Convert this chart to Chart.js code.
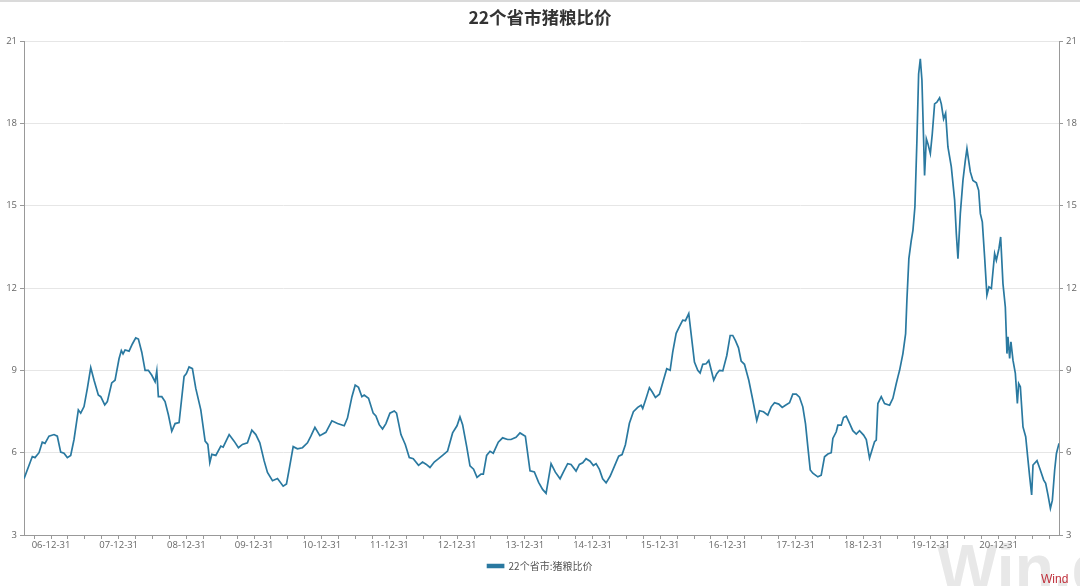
<!DOCTYPE html>
<html>
<head>
<meta charset="utf-8">
<title>22个省市猪粮比价</title>
<script src="https://cdn.jsdelivr.net/npm/chart.js@4.4.0/dist/chart.umd.min.js"></script>
<style>
	html, body { margin: 0; padding: 0; background: #fff; }
	#wrap { width: 1080px; height: 586px; }
</style>
</head>
<body>
<div id="wrap"><canvas id="ratio-chart" width="1080" height="586"></canvas></div>
<script>
var chartTitle = '22个省市猪粮比价';
var seriesName = '22个省市:猪粮比价';
var yearEndLabels = ['06-12-31', '07-12-31', '08-12-31', '09-12-31', '10-12-31', '11-12-31', '12-12-31',
	'13-12-31', '14-12-31', '15-12-31', '16-12-31', '17-12-31', '18-12-31', '19-12-31', '20-12-31'];
var yTicks = [3, 6, 9, 12, 15, 18, 21];

// dates as decimal years
var dates = [
	2006.601, 2006.724, 2006.763, 2006.823, 2006.871, 2006.911, 2006.970, 2007.044, 2007.093, 2007.143,
	2007.192, 2007.241, 2007.291, 2007.340, 2007.404, 2007.439, 2007.488, 2007.537, 2007.587, 2007.636,
	2007.699, 2007.735, 2007.794, 2007.832, 2007.897, 2007.946, 2008.005, 2008.039, 2008.064, 2008.094,
	2008.153, 2008.202, 2008.252, 2008.291, 2008.341, 2008.390, 2008.438, 2008.489, 2008.538, 2008.563,
	2008.586, 2008.637, 2008.685, 2008.734, 2008.784, 2008.833, 2008.892, 2008.966, 2009.000, 2009.040,
	2009.089, 2009.139, 2009.213, 2009.277, 2009.317, 2009.346, 2009.376, 2009.435, 2009.509, 2009.543,
	2009.632, 2009.705, 2009.769, 2009.828, 2009.902, 2009.967, 2010.026, 2010.085, 2010.149, 2010.198,
	2010.272, 2010.346, 2010.430, 2010.479, 2010.519, 2010.578, 2010.641, 2010.715, 2010.789, 2010.839,
	2010.899, 2010.972, 2011.061, 2011.150, 2011.233, 2011.332, 2011.380, 2011.446, 2011.494, 2011.543,
	2011.593, 2011.627, 2011.691, 2011.760, 2011.800, 2011.849, 2011.898, 2011.948, 2012.007, 2012.071,
	2012.105, 2012.170, 2012.234, 2012.293, 2012.352, 2012.430, 2012.489, 2012.540, 2012.599, 2012.662,
	2012.726, 2012.785, 2012.859, 2012.933, 2012.998, 2013.042, 2013.081, 2013.140, 2013.190, 2013.243,
	2013.294, 2013.353, 2013.387, 2013.436, 2013.486, 2013.534, 2013.608, 2013.672, 2013.746, 2013.796,
	2013.870, 2013.929, 2014.008, 2014.077, 2014.141, 2014.204, 2014.263, 2014.314, 2014.388, 2014.451,
	2014.521, 2014.569, 2014.633, 2014.683, 2014.757, 2014.806, 2014.855, 2014.905, 2014.964, 2015.013,
	2015.053, 2015.102, 2015.150, 2015.201, 2015.260, 2015.323, 2015.387, 2015.437, 2015.486, 2015.545,
	2015.604, 2015.668, 2015.718, 2015.742, 2015.792, 2015.841, 2015.881, 2015.930, 2015.989, 2016.048,
	2016.097, 2016.147, 2016.185, 2016.236, 2016.284, 2016.333, 2016.373, 2016.422, 2016.457, 2016.506,
	2016.555, 2016.590, 2016.629, 2016.679, 2016.718, 2016.753, 2016.791, 2016.836, 2016.876, 2016.925,
	2016.984, 2017.034, 2017.072, 2017.112, 2017.157, 2017.196, 2017.245, 2017.309, 2017.368, 2017.427,
	2017.467, 2017.526, 2017.590, 2017.640, 2017.689, 2017.752, 2017.803, 2017.851, 2017.911, 2017.959,
	2018.010, 2018.058, 2018.107, 2018.147, 2018.181, 2018.217, 2018.255, 2018.329, 2018.379, 2018.428,
	2018.477, 2018.527, 2018.551, 2018.601, 2018.625, 2018.675, 2018.709, 2018.749, 2018.798, 2018.846,
	2018.897, 2018.945, 2019.005, 2019.045, 2019.093, 2019.133, 2019.167, 2019.192, 2019.216, 2019.266,
	2019.315, 2019.389, 2019.438, 2019.488, 2019.512, 2019.537, 2019.586, 2019.626, 2019.645, 2019.674,
	2019.710, 2019.734, 2019.763, 2019.793, 2019.818, 2019.843, 2019.867, 2019.892, 2019.906, 2019.932,
	2019.955, 2019.991, 2020.020, 2020.054, 2020.088, 2020.128, 2020.153, 2020.187, 2020.217, 2020.251,
	2020.301, 2020.350, 2020.375, 2020.399, 2020.434, 2020.473, 2020.508, 2020.532, 2020.557, 2020.582,
	2020.620, 2020.671, 2020.705, 2020.730, 2020.759, 2020.793, 2020.827, 2020.857, 2020.893, 2020.941,
	2020.966, 2021.005, 2021.030, 2021.064, 2021.099, 2021.123, 2021.138, 2021.163, 2021.182, 2021.212,
	2021.247, 2021.277, 2021.296, 2021.321, 2021.360, 2021.400, 2021.434, 2021.459, 2021.488, 2021.508,
	2021.567, 2021.607, 2021.666, 2021.695, 2021.729, 2021.765, 2021.794, 2021.828, 2021.854, 2021.892
];

var ratio = [
	5.05, 5.86, 5.82, 6.00, 6.38, 6.34, 6.60, 6.66, 6.60, 6.02,
	5.98, 5.82, 5.90, 6.48, 7.56, 7.44, 7.68, 8.34, 9.10, 8.64,
	8.10, 8.04, 7.74, 7.86, 8.54, 8.64, 9.42, 9.72, 9.60, 9.74,
	9.70, 9.96, 10.18, 10.14, 9.66, 9.00, 9.00, 8.82, 8.58, 8.98,
	8.04, 8.04, 7.86, 7.38, 6.78, 7.06, 7.10, 8.78, 8.88, 9.12,
	9.06, 8.34, 7.56, 6.42, 6.30, 5.64, 5.94, 5.90, 6.24, 6.20,
	6.66, 6.42, 6.18, 6.30, 6.36, 6.82, 6.66, 6.36, 5.70, 5.28,
	4.98, 5.06, 4.78, 4.86, 5.40, 6.22, 6.14, 6.18, 6.36, 6.60,
	6.92, 6.62, 6.74, 7.16, 7.06, 6.98, 7.26, 8.04, 8.46, 8.38,
	8.04, 8.10, 7.98, 7.44, 7.34, 7.02, 6.86, 7.06, 7.44, 7.52,
	7.44, 6.66, 6.30, 5.82, 5.78, 5.54, 5.66, 5.58, 5.46, 5.66,
	5.78, 5.90, 6.06, 6.72, 6.98, 7.30, 7.02, 6.24, 5.52, 5.40,
	5.10, 5.22, 5.22, 5.90, 6.05, 5.98, 6.38, 6.54, 6.48, 6.48,
	6.56, 6.72, 6.60, 5.34, 5.30, 4.92, 4.66, 4.52, 5.60, 5.29,
	5.05, 5.29, 5.60, 5.57, 5.33, 5.57, 5.63, 5.78, 5.69, 5.53,
	5.60, 5.39, 5.05, 4.90, 5.14, 5.50, 5.87, 5.93, 6.29, 7.07,
	7.49, 7.65, 7.73, 7.61, 7.98, 8.37, 8.22, 8.01, 8.13, 8.64,
	9.06, 9.00, 9.66, 10.35, 10.59, 10.83, 10.81, 11.07, 10.33, 9.30,
	9.00, 8.90, 9.22, 9.24, 9.36, 9.02, 8.64, 8.88, 9.00, 8.98,
	9.54, 10.27, 10.27, 10.08, 9.82, 9.34, 9.22, 8.64, 7.92, 7.17,
	7.53, 7.49, 7.37, 7.67, 7.82, 7.77, 7.65, 7.73, 7.82, 8.13,
	8.13, 8.02, 7.67, 7.05, 6.22, 5.37, 5.25, 5.12, 5.18, 5.85,
	5.95, 6.00, 6.52, 6.76, 7.00, 7.00, 7.28, 7.33, 7.07, 6.80,
	6.68, 6.80, 6.64, 6.48, 5.80, 6.12, 6.40, 6.46, 7.79, 8.04,
	7.79, 7.73, 7.98, 8.52, 8.76, 9.00, 9.61, 10.34, 11.56, 13.07,
	13.74, 14.10, 14.95, 17.38, 19.80, 20.35, 19.57, 17.38, 16.10, 17.44,
	17.26, 16.90, 17.62, 18.71, 18.77, 18.93, 18.71, 18.16, 18.37, 17.14,
	16.41, 15.20, 13.98, 13.07, 14.71, 15.92, 16.65, 17.08, 16.65, 16.23,
	15.92, 15.83, 15.56, 14.71, 14.41, 13.13, 11.74, 12.04, 11.98, 13.25,
	13.01, 13.44, 13.86, 12.16, 11.31, 9.61, 10.22, 9.43, 10.04, 9.37,
	8.89, 7.79, 8.52, 8.40, 6.94, 6.58, 5.73, 5.12, 4.46, 5.55,
	5.71, 5.43, 5.00, 4.88, 4.46, 3.97, 4.27, 5.37, 5.97, 6.34
];

var lineColor = '#2a79a0';
var tickFont = {family: '"Open Sans", "Noto Sans CJK SC", sans-serif', size: 9.5};

//Year-end values of the labelled ticks, e.g. '06-12-31' -> 2007
var yearEndValues = yearEndLabels.map(function(label) {
	return 2001 + parseInt(label.slice(0, 2), 10);
});

//Quarter ticks, only the year ends get a label
var quarterTicks = [];
for (let v = yearEndValues[0] - 0.25; v <= yearEndValues[yearEndValues.length - 1] + 0.75 + 1e-6; v += 0.25) {
	quarterTicks.push(Math.round(v * 100) / 100);
}

var pageDecor = {
	id: 'pageDecor',
	beforeDraw: function(chart) {
		var ctx = chart.ctx;
		ctx.save();
		ctx.fillStyle = '#ffffff';
		ctx.fillRect(0, 0, chart.width, chart.height);
		ctx.fillStyle = '#dadada';
		ctx.fillRect(0, 0, chart.width, 2);
		ctx.fillStyle = '#e8e8e8';
		ctx.font = 'bold 64px "Liberation Sans", Arial, sans-serif';
		ctx.textBaseline = 'alphabetic';
		ctx.fillText('Win.d', 937, 590);
		ctx.restore();
	},
	afterDraw: function(chart) {
		var ctx = chart.ctx;
		ctx.save();
		ctx.fillStyle = '#c0313c';
		ctx.font = '12px "Liberation Sans", Arial, sans-serif';
		ctx.textBaseline = 'alphabetic';
		ctx.fillText('Wind', 1041, 583);
		ctx.restore();
	}
};

new Chart(document.getElementById('ratio-chart'), {
	type: 'line',
	data: {
		datasets: [{
			label: seriesName,
			data: dates.map(function(d, i) {
				return {x: d, y: ratio[i]};
			}),
			borderColor: lineColor,
			backgroundColor: lineColor,
			borderWidth: 1.7,
			pointRadius: 0,
			pointHoverRadius: 0,
			tension: 0,
			fill: false,
			yAxisID: 'y'
		}]
	},
	options: {
		responsive: false,
		animation: false,
		events: [],
		layout: {
			padding: {left: 0, right: 0, top: 0, bottom: 5}
		},
		plugins: {
			title: {
				display: true,
				text: chartTitle,
				color: '#333333',
				font: {family: '"Noto Sans CJK SC", sans-serif', size: 17.5, weight: 'bold'},
				padding: {top: 7, bottom: 13}
			},
			legend: {
				position: 'bottom',
				labels: {
					boxWidth: 16,
					boxHeight: 3,
					color: '#555555',
					font: {family: '"Noto Sans CJK SC", sans-serif', size: 10},
					padding: 10
				}
			},
			tooltip: {enabled: false}
		},
		scales: {
			x: {
				type: 'linear',
				min: dates[0],
				max: dates[dates.length - 1],
				afterBuildTicks: function(scale) {
					scale.ticks = quarterTicks.map(function(v) {
						return {value: v};
					});
				},
				afterFit: function(scale) {
					scale.height = 16;
				},
				ticks: {
					autoSkip: false,
					maxRotation: 0,
					padding: 1,
					color: '#666666',
					font: tickFont,
					callback: function(value) {
						for (let i = 0; i < yearEndValues.length; i++) {
							if (Math.abs(value - yearEndValues[i]) < 1e-6) {
								return yearEndLabels[i];
							}
						}
						return '';
					}
				},
				grid: {
					drawOnChartArea: false,
					drawTicks: true,
					tickLength: 4,
					tickColor: '#999999'
				},
				border: {display: true, color: '#999999', width: 1}
			},
			y: {
				position: 'left',
				min: yTicks[0],
				max: yTicks[yTicks.length - 1],
				afterFit: function(scale) {
					scale.width = 24;
				},
				ticks: {
					stepSize: 3,
					padding: 3,
					color: '#666666',
					font: tickFont
				},
				grid: {
					color: '#e6e6e6',
					tickColor: '#999999',
					tickLength: 4
				},
				border: {display: true, color: '#999999', width: 1}
			},
			y2: {
				position: 'right',
				min: yTicks[0],
				max: yTicks[yTicks.length - 1],
				afterFit: function(scale) {
					scale.width = 21;
				},
				ticks: {
					stepSize: 3,
					padding: 3,
					color: '#666666',
					font: tickFont
				},
				grid: {
					drawOnChartArea: false,
					tickColor: '#999999',
					tickLength: 4
				},
				border: {display: true, color: '#999999', width: 1}
			}
		}
	},
	plugins: [pageDecor]
});
</script>
</body>
</html>
